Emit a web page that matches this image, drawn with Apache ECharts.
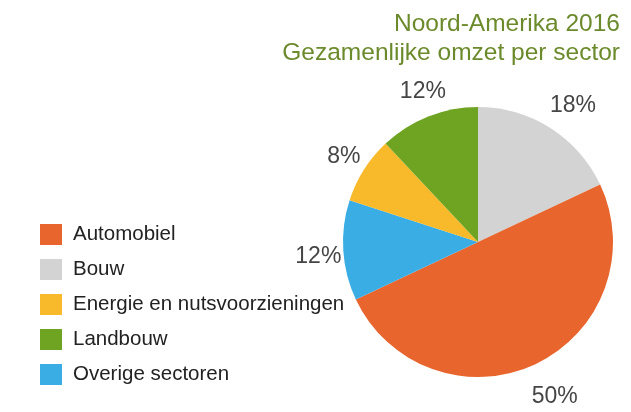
<!DOCTYPE html>
<html>
<head>
<meta charset="utf-8">
<script src="https://cdn.jsdelivr.net/npm/echarts@6/dist/echarts.min.js"></script>
<style>
  html, body { margin: 0; padding: 0; background: #fff; }
  #chart { width: 631px; height: 412px; }
</style>
</head>
<body>
<div id="chart"></div>
<script>
// Sectors in clockwise order from 12 o'clock
const sectors = ['Bouw', 'Automobiel', 'Overige sectoren', 'Energie en nutsvoorzieningen', 'Landbouw'];
const shares = [18, 50, 12, 8, 12];
const sectorColors = ['#d3d3d3', '#e8652d', '#3aaee4', '#f8b92b', '#6ea421'];
// Legend order as printed
const legendOrder = ['Automobiel', 'Bouw', 'Energie en nutsvoorzieningen', 'Landbouw', 'Overige sectoren'];

const chart = echarts.init(document.getElementById('chart'));

const pieData = sectors.map((name, i) => ({
  name: name,
  value: shares[i],
  itemStyle: { color: sectorColors[i] }
}));

const option = {
  animation: false,
  title: {
    text: 'Noord-Amerika 2016\nGezamenlijke omzet per sector',
    left: 615,
    top: 5,
    textAlign: 'right',
    textStyle: {
      fontFamily: 'Liberation Sans',
      fontSize: 24.5,
      fontWeight: 'normal',
      lineHeight: 29,
      color: '#6b8a2b'
    }
  },
  legend: {
    orient: 'vertical',
    left: 35,
    top: 219,
    icon: 'rect',
    itemWidth: 22,
    itemHeight: 21,
    itemGap: 14,
    data: legendOrder,
    textStyle: {
      fontFamily: 'Liberation Sans',
      fontSize: 20.5,
      lineHeight: 21,
      color: '#222',
      padding: [0, 0, 0, 6]
    }
  },
  series: [{
    type: 'pie',
    center: [478, 242],
    radius: 135,
    startAngle: 90,
    clockwise: true,
    label: { show: false },
    labelLine: { show: false },
    emphasis: { disabled: true },
    data: pieData
  }, {
    // transparent ring only used to place the percentage labels round the pie
    type: 'pie',
    center: [484, 246],
    radius: [140, 186],
    startAngle: 90,
    clockwise: true,
    silent: true,
    itemStyle: { color: 'rgba(0,0,0,0)' },
    label: {
      show: true,
      position: 'inside',
      formatter: '{c}%',
      fontFamily: 'Liberation Sans',
      fontSize: 23,
      color: '#454545'
    },
    labelLine: { show: false },
    emphasis: { disabled: true },
    data: sectors.map((name, i) => ({ name: name, value: shares[i] }))
  }]
};

chart.setOption(option);
</script>
</body>
</html>
